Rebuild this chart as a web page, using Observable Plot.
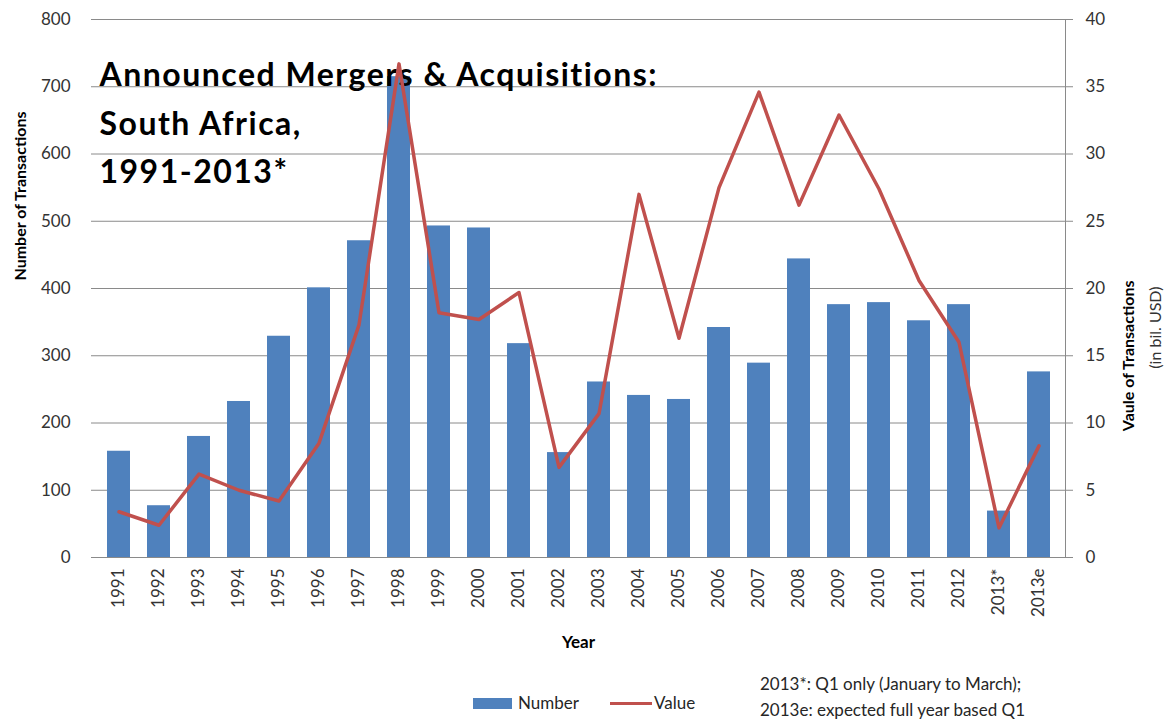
<!DOCTYPE html>
<html><head><meta charset="utf-8">
<script src="https://cdn.jsdelivr.net/npm/d3@7"></script>
<script src="https://cdn.jsdelivr.net/npm/@observablehq/plot@0.6"></script>
<style>
body{margin:0;background:#fff;font-family:Lato, sans-serif;}
#wrap{position:relative;width:1168px;height:720px;overflow:hidden;}
#legend{position:absolute;left:0;top:668px;width:1168px;height:52px;color:#262626;font-size:17px;}
.sw{position:absolute;}
.lt{position:absolute;line-height:20px;white-space:nowrap;}
.cap{font-size:17px;}
</style></head><body>
<div id="wrap"><div id="chart"></div>
<div id="legend">
  <div class="sw" style="left:473px;top:30px;width:39px;height:11px;background:#4F81BD"></div>
  <div class="lt" style="left:518px;top:25px">Number</div>
  <div class="sw" style="left:610px;top:34px;width:42px;height:3px;background:#C0504D"></div>
  <div class="lt" style="left:654px;top:25px">Value</div>
  <div class="lt cap" id="cap1" style="left:760px;top:6px"></div>
  <div class="lt cap" id="cap2" style="left:760px;top:32px"></div>
</div></div>
<script>
const years = ["1991","1992","1993","1994","1995","1996","1997","1998","1999","2000","2001","2002","2003","2004","2005","2006","2007","2008","2009","2010","2011","2012","2013*","2013e"];
const numbers = [158,77,180,232,329,401,471,715,493,490,318,156,261,241,235,342,289,444,376,379,352,376,69,276];
const values = [3.4,2.4,6.2,5.0,4.2,8.5,17.3,36.7,18.2,17.7,19.7,6.7,10.7,27.0,16.3,27.5,34.6,26.2,32.9,27.4,20.6,16.0,2.2,8.3];
const leftTicks = [0,100,200,300,400,500,600,700,800];
const rightTicks = [0,5,10,15,20,25,30,35,40];
const titleText = "Announced Mergers & Acquisitions:\nSouth Africa,\n1991-2013*";
const leftTitle = "Number of Transactions";
const rightTitle = "Vaule of Transactions";
const rightSub = "(in bil. USD)";
const xTitle = "Year";
const captions = ["2013*:  Q1 only (January to March);", "2013e: expected full year based Q1"];
document.getElementById("cap1").textContent = captions[0];
document.getElementById("cap2").textContent = captions[1];

const ratio = 800 / 40;
const data = years.map((year, i) => ({year, number: numbers[i], value: values[i]}));
const gray = "#8a8a8a";

const chart = Plot.plot({
  width: 1168, height: 668,
  marginLeft: 91, marginRight: 103, marginTop: 19, marginBottom: 111,
  style: {fontFamily: "Lato, sans-serif", fontSize: "17px", color: "#333", background: "transparent"},
  x: {domain: years, paddingInner: 0.43, paddingOuter: 0.215, label: null},
  y: {domain: [0, 800], label: null},
  marks: [
    Plot.gridY(leftTicks, {stroke: gray, strokeOpacity: 1}),
    Plot.frame({anchor: "right", stroke: gray}),
    Plot.barY(data, {x: "year", y: "number", fill: "#4F81BD"}),
    Plot.text([titleText], {text: d => d, frameAnchor: "top-left", textAnchor: "start", lineAnchor: "top", dx: 8, dy: 32, fontSize: 32, fontWeight: "bold", lineHeight: 1.52, fill: "black"}),
    Plot.line(data, {x: "year", y: d => d.value * ratio, stroke: "#C0504D", strokeWidth: 3.5}),
    Plot.axisY(leftTicks, {anchor: "left", tickSize: 0, tickPadding: 21, label: null}),
    Plot.axisY(rightTicks.map(d => d * ratio), {anchor: "right", tickSize: 7, tickPadding: 13, stroke: gray, tickFormat: d => d / ratio, label: null}),
    Plot.axisX({tickRotate: -90, tickSize: 0, tickPadding: 11, label: null}),
    Plot.text([leftTitle], {text: d => d, frameAnchor: "left", rotate: -90, dx: -71, dy: -8, fontSize: 16, fontWeight: "bold", fill: "black"}),
    Plot.text([rightTitle], {text: d => d, frameAnchor: "right", rotate: -90, dx: 63, dy: -8, fontSize: 16, fontWeight: "bold", fill: "black"}),
    Plot.text([rightSub], {text: d => d, frameAnchor: "right", rotate: -90, dx: 90, dy: -2, fontSize: 16, fill: "#333"}),
    Plot.text([xTitle], {text: d => d, frameAnchor: "bottom", dy: 90, fontSize: 17, fontWeight: "bold", fill: "black"})
  ]
});
chart.querySelectorAll("text").forEach(t => {
  if (t.textContent.startsWith("Announced")) t.setAttribute("letter-spacing", "1.5");
});
document.getElementById("chart").appendChild(chart);
</script>
</body></html>
